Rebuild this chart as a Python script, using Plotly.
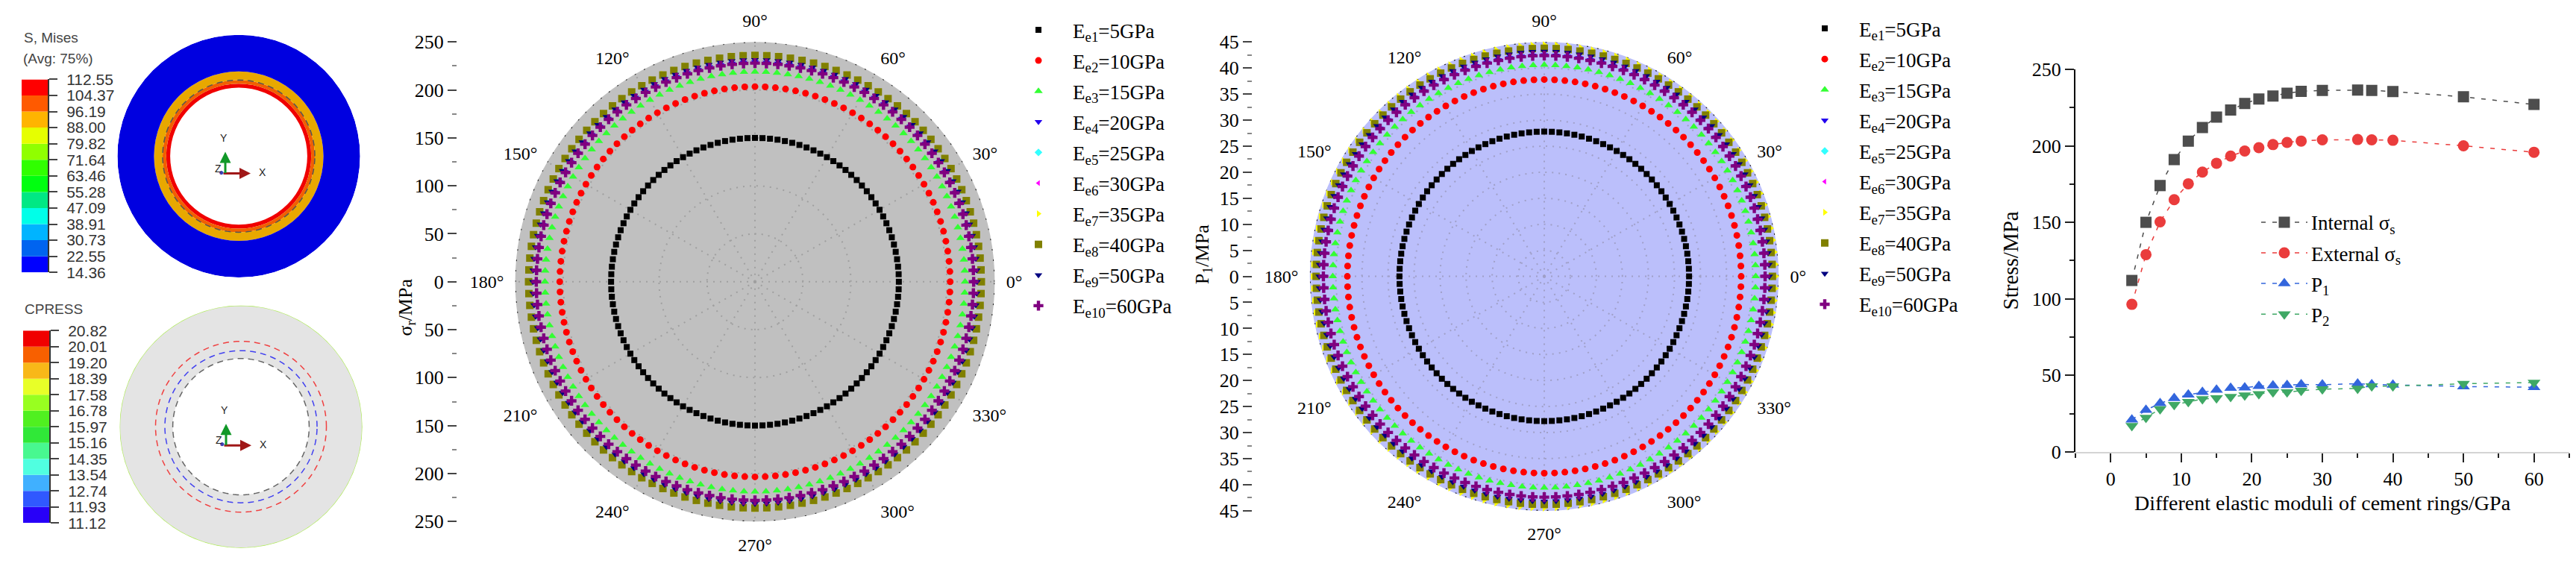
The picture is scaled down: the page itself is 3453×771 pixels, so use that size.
import plotly.graph_objects as go

W, H = 3453, 771

# ---- ring data ----
moduli_labels = ["E<sub>e1</sub>=5GPa", "E<sub>e2</sub>=10GPa", "E<sub>e3</sub>=15GPa", "E<sub>e4</sub>=20GPa",
                 "E<sub>e5</sub>=25GPa", "E<sub>e6</sub>=30GPa", "E<sub>e7</sub>=35GPa", "E<sub>e8</sub>=40GPa",
                 "E<sub>e9</sub>=50GPa", "E<sub>e10</sub>=60GPa"]
ring_colors = ["#000000", "#ff0000", "#33ff33", "#2200ee", "#33ffff", "#ff00ff", "#ffff00", "#808000", "#000080", "#800080"]
ring_symbols = ["square", "circle", "triangle-up", "triangle-down", "diamond", "triangle-left", "triangle-right",
                "square", "triangle-down", "cross"]
ring_sizes = [8, 9, 10, 9, 8, 7, 8, 10, 9, 11]
theta_deg = list(range(0, 360, 3))
sigma_rings = [150, 203.5, 219, 229, 234.4, 236.5, 237, 236, 231.5, 228]
pressure_rings = [27.8, 37.8, 40.6, 42.5, 43.6, 43.9, 44.5, 43.8, 43.2, 42.4]

sigma_ticks = [-250, -200, -150, -100, -50, 0, 50, 100, 150, 200, 250]
sigma_minor = [-225, -175, -125, -75, -25, 25, 75, 125, 175, 225]
pressure_ticks = [-45, -40, -35, -30, -25, -20, -15, -10, -5, 0, 5, 10, 15, 20, 25, 30, 35, 40, 45]
pressure_minor = [-42.5, -37.5, -32.5, -27.5, -22.5, -17.5, -12.5, -7.5, -2.5, 2.5, 7.5, 12.5, 17.5, 22.5, 27.5, 32.5, 37.5, 42.5]
angle_ticks = [0, 30, 60, 90, 120, 150, 180, 210, 240, 270, 300, 330]

# ---- right hand line chart ----
modulus = [3, 5, 7, 9, 11, 13, 15, 17, 19, 21, 23, 25, 27, 30, 35, 37, 40, 50, 60]
internal_sigma = [112, 150, 174, 191, 203, 212, 218.8, 223.4, 227.7, 230.6, 232.5, 234.4, 235.6, 236.2, 236.4, 236.2, 235.5, 232, 227]
external_sigma = [96.4, 128.9, 150.3, 164.8, 175.2, 182.8, 188.6, 193.3, 196.6, 198.8, 200.8, 202.2, 203.1, 203.9, 204.1, 203.9, 203.6, 200, 195.8]
p1 = [21, 27.3, 31.7, 35, 37.3, 39, 40.5, 41.7, 42, 43, 43.3, 43.6, 44, 43.9, 44.5, 44, 43.8, 42.7, 42.2]
p2 = [17, 22.3, 28, 30.8, 32.7, 34.5, 35.2, 36, 37, 37.8, 39, 39, 40, 41, 41.4, 43, 43, 44.5, 45.3]

# ---- FE contour legends, top to bottom ----
mises_labels = ["112.55", "104.37", "96.19", "88.00", "79.82", "71.64", "63.46", "55.28", "47.09", "38.91", "30.73", "22.55", "14.36"]
mises_colors = ["#ff0000", "#ff5a00", "#ffb400", "#e6ff00", "#90ff00", "#30ff00", "#00ff10", "#00e884", "#00ffe8", "#00b4ff", "#0064f0", "#0000ff"]
cpress_labels = ["20.82", "20.01", "19.20", "18.39", "17.58", "16.78", "15.97", "15.16", "14.35", "13.54", "12.74", "11.93", "11.12"]
cpress_colors = ["#f00000", "#f86000", "#f8b818", "#e8ff28", "#98ff20", "#50f020", "#30e838", "#48f890", "#50ffe0", "#40b0ff", "#3058ff", "#2800f8"]

# FE rings: inner radius, thickness, colour
mises_base = [0, 95.5, 101, 106, 118]
mises_thick = [95.5, 5.5, 5, 12, 51]
mises_fill = ["#ffffff", "#f00000", "#f06000", "#e8a800", "#0000e0"]
mises_dash_r = [106]
cpress_base = [0, 95]
cpress_thick = [95, 74]
cpress_fill = ["#ffffff", "#e4e4e4"]
cpress_dash_r = [119, 106, 95, 169]
cpress_dash_col = ["#f04040", "#4040f0", "#666666", "#b4ee60"]

SERIF = "Liberation Serif"
SANS = "Liberation Sans"


def dom_x(a, b):
    return [a / W, b / W]


def dom_y(top, bottom):
    return [1 - bottom / H, 1 - top / H]


fig = go.Figure()


# ---- FE pictures ----
def add_fe(subplot, base, thick, fill):
    fig.add_trace(go.Barpolar(r=thick, base=base, theta=[0] * len(base), width=[360] * len(base),
                              marker=dict(color=fill, line=dict(width=0)), subplot=subplot,
                              showlegend=False, hoverinfo="skip"))


ring_theta = list(range(0, 361, 3))
add_fe("polar3", mises_base, mises_thick, mises_fill)
for r in mises_dash_r:
    fig.add_trace(go.Scatterpolar(r=[r] * len(ring_theta), theta=ring_theta, mode="lines", subplot="polar3",
                                  line=dict(color="#555555", width=1.5, dash="8px 6px"), showlegend=False, hoverinfo="skip"))
add_fe("polar4", cpress_base, cpress_thick, cpress_fill)
for r, c in zip(cpress_dash_r, cpress_dash_col):
    fig.add_trace(go.Scatterpolar(r=[r] * len(ring_theta), theta=ring_theta, mode="lines", subplot="polar4",
                                  line=dict(color=c, width=1.5, dash="8px 6px" if r != 169 else "solid"),
                                  showlegend=False, hoverinfo="skip", cliponaxis=False))


# ---- contour legends as stacked bars ----
def add_contour(xa, ya, colors):
    up = colors[::-1]
    fig.add_trace(go.Bar(x=[0] * len(up), y=[1] * len(up), base=list(range(len(up))), width=1,
                         marker=dict(color=up, line=dict(width=0)), xaxis=xa, yaxis=ya,
                         showlegend=False, hoverinfo="skip"))


add_contour("x4", "y4", mises_colors)
add_contour("x5", "y5", cpress_colors)


# ---- polar rings ----
def add_rings(subplot, values, legend, rim):
    fig.add_trace(go.Scatterpolar(r=[rim] * len(ring_theta), theta=ring_theta, mode="lines", subplot=subplot,
                                  line=dict(color="#222222", width=2, dash="2px 12px"), cliponaxis=False,
                                  showlegend=False, hoverinfo="skip"))
    for i in range(len(values)):
        fig.add_trace(go.Scatterpolar(r=[values[i]] * len(theta_deg), theta=theta_deg, mode="markers",
                                      name=moduli_labels[i], subplot=subplot, legend=legend, legendgroup=legend + str(i),
                                      marker=dict(color=ring_colors[i], symbol=ring_symbols[i], size=ring_sizes[i],
                                                  line=dict(width=0))))


add_rings("polar", sigma_rings, "legend", 250)
add_rings("polar2", pressure_rings, "legend2", 45)

# invisible traces so the detached radial scales get drawn
fig.add_trace(go.Scatter(x=[0, 0], y=[-250, 250], xaxis="x2", yaxis="y2", mode="markers", marker=dict(opacity=0),
                         showlegend=False, hoverinfo="skip"))
fig.add_trace(go.Scatter(x=[0, 0], y=[-45, 45], xaxis="x3", yaxis="y3", mode="markers", marker=dict(opacity=0),
                         showlegend=False, hoverinfo="skip"))

# ---- line chart ----
line_series = [("Internal σ<sub>s</sub>", internal_sigma, "#4d4d4d", "square"),
               ("External σ<sub>s</sub>", external_sigma, "#ea3c3c", "circle"),
               ("P<sub>1</sub>", p1, "#3366dd", "triangle-up"),
               ("P<sub>2</sub>", p2, "#3fa865", "triangle-down")]
for name, vals, col, sym in line_series:
    fig.add_trace(go.Scatter(x=modulus, y=vals, name=name, mode="lines+markers", legend="legend3", legendgroup=name,
                             line=dict(color=col, width=1.5, dash="6px 9px"),
                             marker=dict(color=col, symbol=sym, size=15, line=dict(width=0))))


def polar_layout(x0, x1, top, bottom, rmax, rstep, bg, grid):
    return dict(
        domain=dict(x=dom_x(x0, x1), y=dom_y(top, bottom)),
        bgcolor=bg,
        radialaxis=dict(range=[0, rmax], dtick=rstep, showticklabels=False, ticks="", showline=False,
                        gridcolor=grid, griddash="2px 7px", gridwidth=1.5),
        angularaxis=dict(tickvals=angle_ticks, ticktext=[f"{a}°" for a in angle_ticks], direction="counterclockwise",
                         rotation=0, showline=False, ticks="outside", ticklen=10, tickcolor="rgba(0,0,0,0)",
                         gridcolor=grid, griddash="2px 7px", gridwidth=1.5, tickfont=dict(size=24, family=SERIF)),
    )


def fe_polar(x0, x1, top, bottom):
    return dict(domain=dict(x=dom_x(x0, x1), y=dom_y(top, bottom)), bgcolor="rgba(0,0,0,0)", barmode="overlay",
                radialaxis=dict(range=[0, 169], visible=False), angularaxis=dict(visible=False))


def hidden_x(x0, x1, **kw):
    return dict(domain=dom_x(x0, x1), visible=False, fixedrange=True, **kw)


def legend_box(x, y, itemwidth, gap):
    return dict(x=x / W, y=1 - y / H, xanchor="left", yanchor="top", bgcolor="rgba(0,0,0,0)", itemwidth=itemwidth,
                tracegroupgap=gap, font=dict(size=27, family=SERIF, color="#000000"))


def radial_scale(top, bottom, rmax, ticks, minor, anchor):
    return dict(domain=dom_y(top, bottom), range=[-rmax, rmax], anchor=anchor, tickvals=ticks,
                ticktext=[str(abs(t)) for t in ticks], ticks="outside", ticklen=12, tickwidth=2, tickcolor="#444444",
                showgrid=False, zeroline=False, showline=False, tickfont=dict(size=26, family=SERIF),
                minor=dict(tickvals=minor, ticks="outside", ticklen=6, tickcolor="#888888", tickwidth=2, showgrid=False))


def contour_axis(top, bottom, labels, anchor):
    return dict(domain=dom_y(top, bottom), range=[0, 12], anchor=anchor, side="right", tickvals=list(range(13)),
                ticktext=labels[::-1], ticks="outside", ticklen=11, tickwidth=2, tickcolor="#444444",
                ticklabelstandoff=8, showgrid=False, zeroline=False, showline=True, linecolor="#333333", linewidth=2,
                tickfont=dict(size=21, family=SANS, color="#333333"))


fig.update_layout(
    width=W, height=H, margin=dict(l=0, r=0, t=0, b=0, pad=0), paper_bgcolor="white", plot_bgcolor="white",
    font=dict(family=SERIF, color="#000000"), barmode="overlay", showlegend=True,
    polar=polar_layout(678, 1346, 44, 712, 250, 50, "#c0c0c0", "#a0a0a0"),
    polar2=polar_layout(1743.5, 2396.5, 44, 697, 45, 5, "#bbbffb", "#a0a0c8"),
    polar3=fe_polar(151, 489, 34, 372),
    polar4=fe_polar(154, 492, 411, 749),
    legend=legend_box(1346, 2, 82, 3),
    legend2=legend_box(2400, 0, 82, 3),
    legend3=legend_box(3026, 270, 62, 3),
    xaxis=dict(domain=dom_x(2782, 3444), range=[-5, 65], anchor="y", tick0=0, dtick=10, ticks="outside", ticklen=12,
               tickwidth=2, tickcolor="#222222", showgrid=False, zeroline=False, showline=True, linecolor="#d4d4d4",
               linewidth=2, tickfont=dict(size=26, family=SERIF), minor=dict(dtick=5, tick0=0, ticks="outside", ticklen=6, tickcolor="#222222", tickwidth=2),
               title=dict(text="Different elastic moduli of cement rings/GPa", font=dict(size=28, family=SERIF), standoff=8)),
    yaxis=dict(domain=dom_y(82, 615), range=[0, 250], anchor="x", dtick=50, ticks="outside", ticklen=12, tickwidth=2,
               tickcolor="#222222", showgrid=False, zeroline=False, showline=True, linecolor="#000000", linewidth=2,
               tickfont=dict(size=26, family=SERIF), minor=dict(dtick=25, ticks="outside", ticklen=6, tickcolor="#222222", tickwidth=2),
               title=dict(text="Stress/MPa", font=dict(size=29, family=SERIF), standoff=10)),
    xaxis2=hidden_x(613, 620, range=[-1, 1]),
    yaxis2=radial_scale(44, 712, 250, sigma_ticks, sigma_minor, "x2"),
    xaxis3=hidden_x(1679, 1686, range=[-1, 1]),
    yaxis3=radial_scale(44, 697, 45, pressure_ticks, pressure_minor, "x3"),
    xaxis4=hidden_x(29, 64, range=[-0.5, 0.5]),
    yaxis4=contour_axis(96, 365, mises_labels, "x4"),
    xaxis5=hidden_x(31, 66, range=[-0.5, 0.5]),
    yaxis5=contour_axis(446, 714, cpress_labels, "x5"),
)


# ---- free text ----
def label(x, y, text, size=24, family=SERIF, color="#000000", angle=0, xanchor="center"):
    fig.add_annotation(x=x / W, y=1 - y / H, xref="paper", yref="paper", text=text, showarrow=False, textangle=angle,
                       xanchor=xanchor, yanchor="middle", font=dict(size=size, family=family, color=color))


def arrow(x0, y0, x1, y1, color):
    fig.add_annotation(x=x1 / W, y=1 - y1 / H, xref="paper", yref="paper", ax=x0 - x1, ay=y0 - y1, axref="pixel", ayref="pixel",
                       text="", showarrow=True, arrowhead=2, arrowsize=1, arrowwidth=3, arrowcolor=color)


label(545, 414, "σ<sub>r</sub>/MPa", size=26, angle=-90)
label(1613, 340, "P<sub>1</sub>/MPa", size=26, angle=-90)
label(30, 38, "S, Mises", size=19, family=SANS, color="#444444", xanchor="left")
label(29, 67, "(Avg: 75%)", size=19, family=SANS, color="#444444", xanchor="left")
label(31, 416, "CPRESS", size=19, family=SANS, color="#444444", xanchor="left")

for ox, oy in [(298, 227), (299, 606)]:
    arrow(ox, oy, ox + 38, oy, "#a01818")
    arrow(ox + 4, oy, ox + 4, oy - 30, "#109828")
    label(ox - 2, oy - 2, "●", size=12, color="#4040b0")
    label(ox + 2, oy - 49, "Y", size=14, family=SANS, color="#222222")
    label(ox + 54, oy - 1, "X", size=14, family=SANS, color="#222222")
    label(ox - 6, oy - 7, "Z", size=14, family=SANS, color="#222222")

fig.write_html("out.html", config=dict(displayModeBar=False), post_script="document.body.style.margin='0';")
